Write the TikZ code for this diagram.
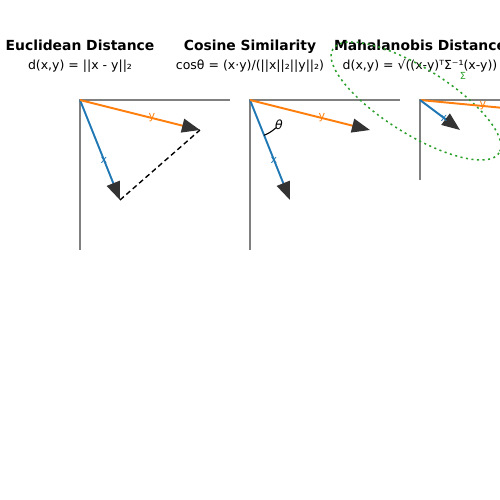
\documentclass[tikz,border=0pt]{standalone}
\usepackage{fontspec}
\setmainfont{DejaVu Sans}
\usetikzlibrary{arrows.meta}

\definecolor{mplblue}{HTML}{1F77B4}
\definecolor{mplorange}{HTML}{FF7F0E}
\definecolor{mplgreen}{HTML}{2CA02C}
\definecolor{headgray}{HTML}{333333}

\tikzset{
  axisline/.style={gray, line width=1.5pt},
  vec/.style={line width=1.4pt, -{Triangle[length=13pt,width=10pt,color=headgray]}},
  veclabel/.style={font=\fontsize{8}{9}\selectfont, inner sep=0pt},
  paneltitle/.style={font=\bfseries\fontsize{10}{12}\selectfont, anchor=base},
  formula/.style={font=\fontsize{9}{11}\selectfont, anchor=base},
  gapline/.style={line width=1pt, dash pattern=on 3.7pt off 2.4pt},
  covring/.style={mplgreen, line width=1.1pt, dash pattern=on 1.5pt off 2.5pt},
}

\begin{document}
\begin{tikzpicture}[x=0.72pt, y=-0.72pt]
  \useasboundingbox (0,0) rectangle (500,500);
  \clip (0,0) rectangle (500,500);

  % titles and formulas
  \node[paneltitle] (tE) at (80,50) {Euclidean Distance};
  \node[paneltitle] (tC) at (250,50) {Cosine Similarity};
  \node[paneltitle] (tM) at (420,50) {Mahalanobis Distance};
  \node[formula] (fE) at (80,69) {d(x,y) = ||x - y||₂};
  \node[formula] (fC) at (250,69) {cosθ = (x·y)/(||x||₂||y||₂)};
  \node[formula] (fM) at (420,69) {d(x,y) = √((x-y)ᵀΣ⁻¹(x-y))};

  % Euclidean
  \coordinate (oE) at (80,100);
  \coordinate (xE) at (120,200);
  \coordinate (yE) at (200,130);
  \draw[axisline] (230,100) -- (oE) -- (80,250);
  \draw[vec, mplblue] (oE) -- (xE) node[veclabel, pos=0.6] (lxE) {x};
  \draw[vec, mplorange] (oE) -- (yE) node[veclabel, pos=0.6] (lyE) {y};
  \draw[gapline] (xE) -- (yE);

  % cosine
  \coordinate (oC) at (250,100);
  \coordinate (xC) at (290,200);
  \coordinate (yC) at (370,130);
  \draw[axisline] (400,100) -- (oC) -- (250,250);
  \draw[vec, mplblue] (oC) -- (xC) node[veclabel, pos=0.6] (lxC) {x};
  \draw[vec, mplorange] (oC) -- (yC) node[veclabel, pos=0.6] (lyC) {y};
  \draw[line width=0.8pt] (oC) ++(68.2:38) arc[start angle=68.2, end angle=47, radius=38];
  \node[font=\itshape\fontsize{9}{10}\selectfont, inner sep=0pt] (th) at (279,125) {θ};

  % mahalanobis
  \coordinate (oM) at (420,100);
  \coordinate (xM) at (460,130);
  \coordinate (yM) at (525,110);
  \coordinate (cM) at (416,101);
  \draw[axisline] (570,100) -- (oM) -- (420,180);
  \draw[covring, rotate around={-32:(cM)}] (cM) ellipse[x radius=98, y radius=33];
  \node[mplgreen, font=\fontsize{7}{8}\selectfont, inner sep=0pt] (sig) at (463,76) {Σ};
  \draw[vec, mplorange] (oM) -- (yM) node[veclabel, pos=0.6] (lyM) {y};
  \draw[vec, mplblue] (oM) -- (xM) node[veclabel, pos=0.6] (lxM) {x};
\end{tikzpicture}
\end{document}
